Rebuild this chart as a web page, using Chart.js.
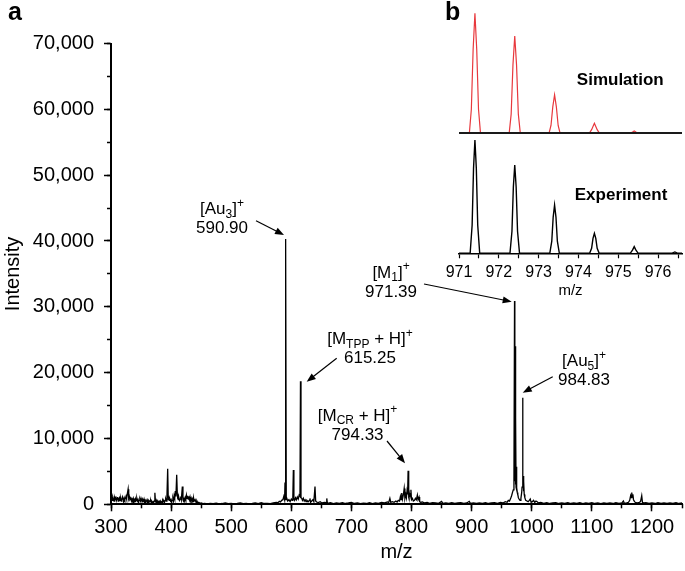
<!DOCTYPE html>
<html><head><meta charset="utf-8">
<script src="https://cdn.jsdelivr.net/npm/chart.js@4"></script>
<style>
html,body{margin:0;padding:0;background:#fff;}
#wrap{position:relative;width:685px;height:571px;overflow:hidden;}
#main{position:absolute;left:0;top:0;}
#inset{position:absolute;left:440px;top:0;}
</style></head><body>
<div id="wrap"><canvas id="main" width="685" height="571"></canvas><canvas id="inset" width="245" height="310"></canvas></div>
<script>
// ---- main spectrum (m/z, intensity) ----
const specMz = [300,301,302,303,304,305,306,307,308,309,310,311,312,313,314,315,316,317,318,319,320,321,322,323,324,325,326,327,328.5,329.5,330.5,331.5,333,334,335,336,337,338,339,340,341,342,343,344,345,346,347,348,349,350,351,352,353,354,355,356,357,358,359,360,361,362,363,364,365,366,367,368,369,370,371,372,373,374,375,376,377,378,379,380,381,382,383,384,385,386,387,388,389,390,391,392,393,394.3,395.3,396,397,398,399,400,401,402,403,404,405,406,407,408,409.3,410.3,411,412,413,414,415,416,417,418.7,419.7,420.5,421.5,422.5,423.5,424.5,425.5,426.5,427.5,428.5,429.5,430.5,431.5,432.5,433.5,434.5,435.5,436.5,437.5,438.5,440,441.5,443,444.5,446,448,450,453,456,460,465,470,475,480,485,490,495,500,505,510,515,520,525,530,535,540,545,550,555,560,565,570,575,578,580,582,584,586,587.5,588.8,589.5,590.2,590.9,591.6,592.5,594,596,598,600,601.5,602.5,603.4,604.3,605.5,607,608.5,610,611.5,613,614.4,615.25,616.1,617.3,618.5,620,621.5,623,624.5,626,628,630,631,632,634,636,637.5,639.4,640.5,642,645,648,651,655,658,659,660,665,670,675,680,685,690,695,700,705,710,715,720,725,730,735,740,745,750,755,760,762,764,765.5,768,771,774,776,778,780,781.5,782.5,783.7,785,786.5,787.8,789,790.5,791.5,792.5,793.5,794.3,795.3,796.3,797.3,798.2,799,800,801.5,803,805,806.5,808,809.7,810.8,812.5,813.5,815,818,822,826,830,835,840,845,850,852,857,862,867,872,877,882,887,892,896,898,903,908,913,918,923,928,933,938,943,948,952,956,959,961,963,965,966.5,968,969.3,970.4,971.39,971.9,972.4,972.9,973.4,973.9,974.4,974.9,975.4,976,976.8,977.8,979,980.5,982,983.3,983.9,984.83,985.4,985.8,986.3,986.8,987.5,988.5,990,992,994,996,997.5,999,1001,1003,1005,1007,1009,1011,1015,1020,1025,1030,1035,1040,1045,1050,1055,1060,1065,1070,1075,1080,1085,1090,1095,1100,1105,1110,1115,1120,1125,1130,1135,1140,1145,1150,1152.5,1154,1158,1161,1163,1164.5,1165.5,1166.4,1167.3,1168.3,1169.3,1171,1173,1176,1179,1181,1183,1184.2,1187,1190,1195,1200,1205,1210,1215,1220,1225,1230,1235,1240,1245,1250];
const specInt = [700,1000,600,1100,800,500,1000,700,1200,600,900,1100,500,800,1000,600,900,500,700,1100,800,600,1000,700,900,1200,800,1500,2300,900,1200,700,900,500,800,600,900,500,700,400,800,600,900,500,700,400,600,800,500,900,600,400,700,500,800,400,600,300,500,700,400,600,300,500,400,600,300,400,200,400,300,500,1750,400,300,500,300,400,200,450,300,500,250,400,300,600,400,500,300,600,800,500,900,5400,700,1000,600,800,500,700,400,600,900,500,1300,900,2000,1200,4500,1600,900,700,1000,600,800,1200,700,2700,700,500,800,500,1000,700,1400,900,1300,800,1200,700,1100,600,900,500,800,400,900,500,700,300,500,200,300,150,200,100,150,80,150,100,180,80,120,220,100,150,80,120,200,100,150,80,130,200,100,250,120,150,100,200,300,250,450,350,600,700,1200,700,3300,600,40300,700,900,500,700,400,800,600,1000,5200,800,600,1000,700,1100,800,1400,1200,18700,1000,900,600,900,500,700,400,600,400,600,900,300,500,700,400,2700,500,350,250,400,200,300,250,900,150,250,100,200,150,250,120,200,300,120,200,100,180,120,250,100,200,150,300,200,350,250,900,300,400,300,500,350,600,500,1200,700,1700,800,1500,2400,900,1500,1000,2000,1500,5100,1300,1700,1100,1500,2200,700,900,500,600,900,700,1400,700,1100,400,300,350,200,300,150,250,200,150,450,150,200,150,250,150,200,250,150,200,450,150,200,120,200,150,250,120,200,250,150,300,200,400,300,600,500,900,1300,1800,2200,3500,30900,3500,24000,3000,13200,2600,5700,2200,2500,1800,1500,1000,800,600,900,1800,2600,16200,2800,4300,2000,3500,1500,1000,600,500,400,600,800,300,400,600,300,500,400,200,300,150,250,120,200,250,120,200,150,250,120,200,150,250,100,200,150,250,120,200,100,200,150,200,120,250,150,200,500,150,200,300,600,1300,1000,1800,1100,1500,700,400,250,200,300,400,1300,300,200,250,150,200,120,250,150,200,120,200,150,250,120,200];

// ---- inset (b): isotope pattern, relative intensity ----
const simMz  = [971.0,971.26,971.31,971.355,971.40,971.445,971.49,971.54,972.26,972.31,972.355,972.40,972.445,972.49,972.54,973.26,973.31,973.355,973.40,973.445,973.49,973.54,974.27,974.33,974.40,974.47,974.53,975.30,975.36,975.40,975.44,975.50,976.6];
const simInt = [0,0,20,70,100,70,20,0,0,16,57,81,57,16,0,0,6.5,22,32,22,6.5,0,0,3,8.3,3,0,0,1,2,1,0,0];
const expMz  = [971.0,971.28,971.33,971.365,971.40,971.435,971.47,971.52,972.28,972.33,972.365,972.40,972.435,972.47,972.52,973.28,973.33,973.365,973.40,973.435,973.47,973.52,974.28,974.33,974.365,974.40,974.435,974.47,974.52,975.30,975.36,975.40,975.44,975.50,976.34,976.42,976.50,976.6];
const expInt = [0,0,25,75,100,75,25,0,0,19.5,58.5,78,58.5,19.5,0,0,10.7,32,42.6,32,10.7,0,0,4.4,13.2,17.6,13.2,4.4,0,0,3,5.9,3,0,0,1.2,0,0];

// ---- annotations (label centre and arrow in data units) ----
const annotations = [
  {lines:[[['[Au',''],['3','sub'],[']',''],['+','sup']],[['590.90','']]], at:[484.7,44782], from:[541.3,43081], to:[587.9,40908]},
  {lines:[[['[M',''],['TPP','sub'],[' + H]',''],['+','sup']],[['615.25','']]], at:[730.9,25034], from:[675.5,22178], to:[625.6,18624]},
  {lines:[[['[M',''],['CR','sub'],[' + H]',''],['+','sup']],[['794.33','']]], at:[710.2,13413], from:[759.2,9616], to:[789.2,6228]},
  {lines:[[['[M',''],['1','sub'],[']',''],['+','sup']],[['971.39','']]], at:[765.9,35136], from:[820.8,33465], to:[966.7,30776]},
  {lines:[[['[Au',''],['5','sub'],[']',''],['+','sup']],[['984.83','']]], at:[1087,21692], from:[1034.9,19384], to:[985.0,16953]}
];
const insetLabels = [
  {text:'Simulation', x:975.05, y:44.4, axis:'ySim'},
  {text:'Experiment', x:975.07, y:51.5, axis:'yExp'}
];

const FAM = "'Liberation Sans', Arial, Helvetica, sans-serif";
Chart.defaults.font.family = FAM;
Chart.defaults.color = '#000';

function drawRich(ctx, segs, cx, cy){
  const big = "17px " + FAM, small = "12px " + FAM;
  let w = 0;
  for (const [t,k] of segs){ ctx.font = k ? small : big; w += ctx.measureText(t).width; }
  let xx = cx - w/2;
  ctx.textBaseline = 'middle'; ctx.textAlign = 'left';
  for (const [t,k] of segs){
    ctx.font = k ? small : big;
    const dy = k === 'sub' ? 5 : (k === 'sup' ? -6 : 0);
    ctx.fillText(t, xx, cy + dy);
    xx += ctx.measureText(t).width;
  }
}
function drawArrow(ctx, x1, y1, x2, y2){
  const a = Math.atan2(y2-y1, x2-x1), L = 9, W = 3.5;
  ctx.beginPath(); ctx.moveTo(x1,y1);
  ctx.lineTo(x2 - L*0.8*Math.cos(a), y2 - L*0.8*Math.sin(a)); ctx.stroke();
  ctx.beginPath(); ctx.moveTo(x2,y2);
  ctx.lineTo(x2 - L*Math.cos(a) + W*Math.sin(a), y2 - L*Math.sin(a) - W*Math.cos(a));
  ctx.lineTo(x2 - L*Math.cos(a) - W*Math.sin(a), y2 - L*Math.sin(a) + W*Math.cos(a));
  ctx.closePath(); ctx.fill();
}

const annotPlugin = {
  id: 'annot',
  afterDatasetsDraw(chart){
    const {ctx} = chart, x = chart.scales.x, y = chart.scales.y;
    ctx.save();
    ctx.fillStyle = '#000'; ctx.strokeStyle = '#000'; ctx.lineWidth = 1.2;
    for (const a of annotations){
      const cx = x.getPixelForValue(a.at[0]), cy = y.getPixelForValue(a.at[1]);
      a.lines.forEach((line, i) => drawRich(ctx, line, cx, cy + i*19));
      drawArrow(ctx, x.getPixelForValue(a.from[0]), y.getPixelForValue(a.from[1]),
                     x.getPixelForValue(a.to[0]), y.getPixelForValue(a.to[1]));
    }
    ctx.font = "bold 25px " + FAM; ctx.textBaseline = 'alphabetic'; ctx.textAlign = 'left';
    ctx.fillText('a', 8, 20);
    ctx.fillText('b', 445, 20);
    ctx.restore();
  }
};

const mainData = specMz.map((m,i) => ({x:m, y:specInt[i]}));

new Chart(document.getElementById('main'), {
  type: 'line',
  data: {datasets: [{data: mainData, xAxisID:'x', yAxisID:'y', borderColor:'#000', borderWidth:1.3,
    pointRadius:0, tension:0, fill:false}]},
  options: {
    responsive:false, animation:false, events:[],
    layout:{padding:{top:43.5, right:3, left:0, bottom:0}},
    plugins:{legend:{display:false}, tooltip:{enabled:false}},
    scales:{
      xMinor:{type:'linear', position:'bottom', weight:0, min:300, max:1250,
        ticks:{stepSize:50, display:false, includeBounds:false},
        grid:{drawOnChartArea:false, drawTicks:true, tickLength:4, tickWidth:1.5, tickColor:'#000'},
        border:{display:false}, afterFit:s => { s.height = 0; }},
      x:{type:'linear', position:'bottom', weight:1, min:300, max:1250,
        ticks:{stepSize:100, includeBounds:false, padding:4, font:{size:20}, maxRotation:0, autoSkip:false,
          callback:v => String(v)},
        grid:{drawOnChartArea:false, tickLength:7, tickWidth:1.5, tickColor:'#000'},
        border:{display:true, color:'#000', width:2},
        title:{display:true, text:'m/z', font:{size:20}, padding:{top:0, bottom:7}},
        afterFit:s => { s.height = 66.7; }},
      yMinor:{type:'linear', position:'left', weight:0, min:0, max:70000,
        ticks:{stepSize:5000, display:false, includeBounds:false},
        grid:{drawOnChartArea:false, drawTicks:true, tickLength:4, tickWidth:1.5, tickColor:'#000'},
        border:{display:false}, afterFit:s => { s.width = 0; }},
      y:{type:'linear', position:'left', weight:1, min:0, max:70000,
        ticks:{stepSize:10000, includeBounds:false, padding:10, font:{size:20},
          callback:v => v.toLocaleString('en-US')},
        grid:{drawOnChartArea:false, tickLength:7, tickWidth:1.5, tickColor:'#000'},
        border:{display:true, color:'#000', width:2},
        title:{display:true, text:'Intensity', font:{size:20}, padding:{top:1, bottom:0}},
        afterFit:s => { s.width = 111; }}
    }
  },
  plugins:[annotPlugin]
});

const insetPlugin = {
  id:'insetLabels',
  afterDatasetsDraw(chart){
    const {ctx} = chart;
    ctx.save();
    ctx.fillStyle = '#000'; ctx.font = "bold 17px " + FAM;
    ctx.textAlign = 'center'; ctx.textBaseline = 'middle';
    for (const l of insetLabels){
      ctx.fillText(l.text, chart.scales.x.getPixelForValue(l.x), chart.scales[l.axis].getPixelForValue(l.y));
    }
    ctx.restore();
  }
};

new Chart(document.getElementById('inset'), {
  type:'line',
  data:{datasets:[
    {data: simMz.map((m,i)=>({x:m,y:simInt[i]})), xAxisID:'x', yAxisID:'ySim', borderColor:'#e8383d',
      borderWidth:1.2, pointRadius:0, tension:0, fill:false, order:1},
    {data: expMz.map((m,i)=>({x:m,y:expInt[i]})), xAxisID:'x', yAxisID:'yExp', borderColor:'#000',
      borderWidth:1.4, pointRadius:0, tension:0, fill:false, order:0}
  ]},
  options:{
    responsive:false, animation:false, events:[],
    layout:{padding:{left:19, right:3, top:5, bottom:0}},
    plugins:{legend:{display:false}, tooltip:{enabled:false}},
    scales:{
      x:{type:'linear', position:'bottom', min:971, max:976.6,
        ticks:{stepSize:0.5, includeBounds:false, autoSkip:false, maxRotation:0, padding:5, font:{size:16},
          callback:v => Number.isInteger(v) ? String(v) : ''},
        grid:{drawOnChartArea:false, tickLength:5, tickWidth:1.2, tickColor:'#000'},
        border:{display:true, color:'#000', width:1.5},
        title:{display:true, text:'m/z', font:{size:15}, padding:{top:0, bottom:10}},
        afterFit:s => { s.height = 56.7; }},
      yExp:{type:'linear', display:false, min:0, max:219.2},
      ySim:{type:'linear', position:'left', display:true, min:-100, max:106.9,
        afterBuildTicks:s => { s.ticks = [{value:0}]; },
        ticks:{display:false},
        grid:{display:true, drawOnChartArea:true, z:1, drawTicks:false, lineWidth:2, color:'#1a1a1a'},
        border:{display:false}, afterFit:s => { s.width = 0; }}
    }
  },
  plugins:[insetPlugin]
});
</script>
</body></html>
